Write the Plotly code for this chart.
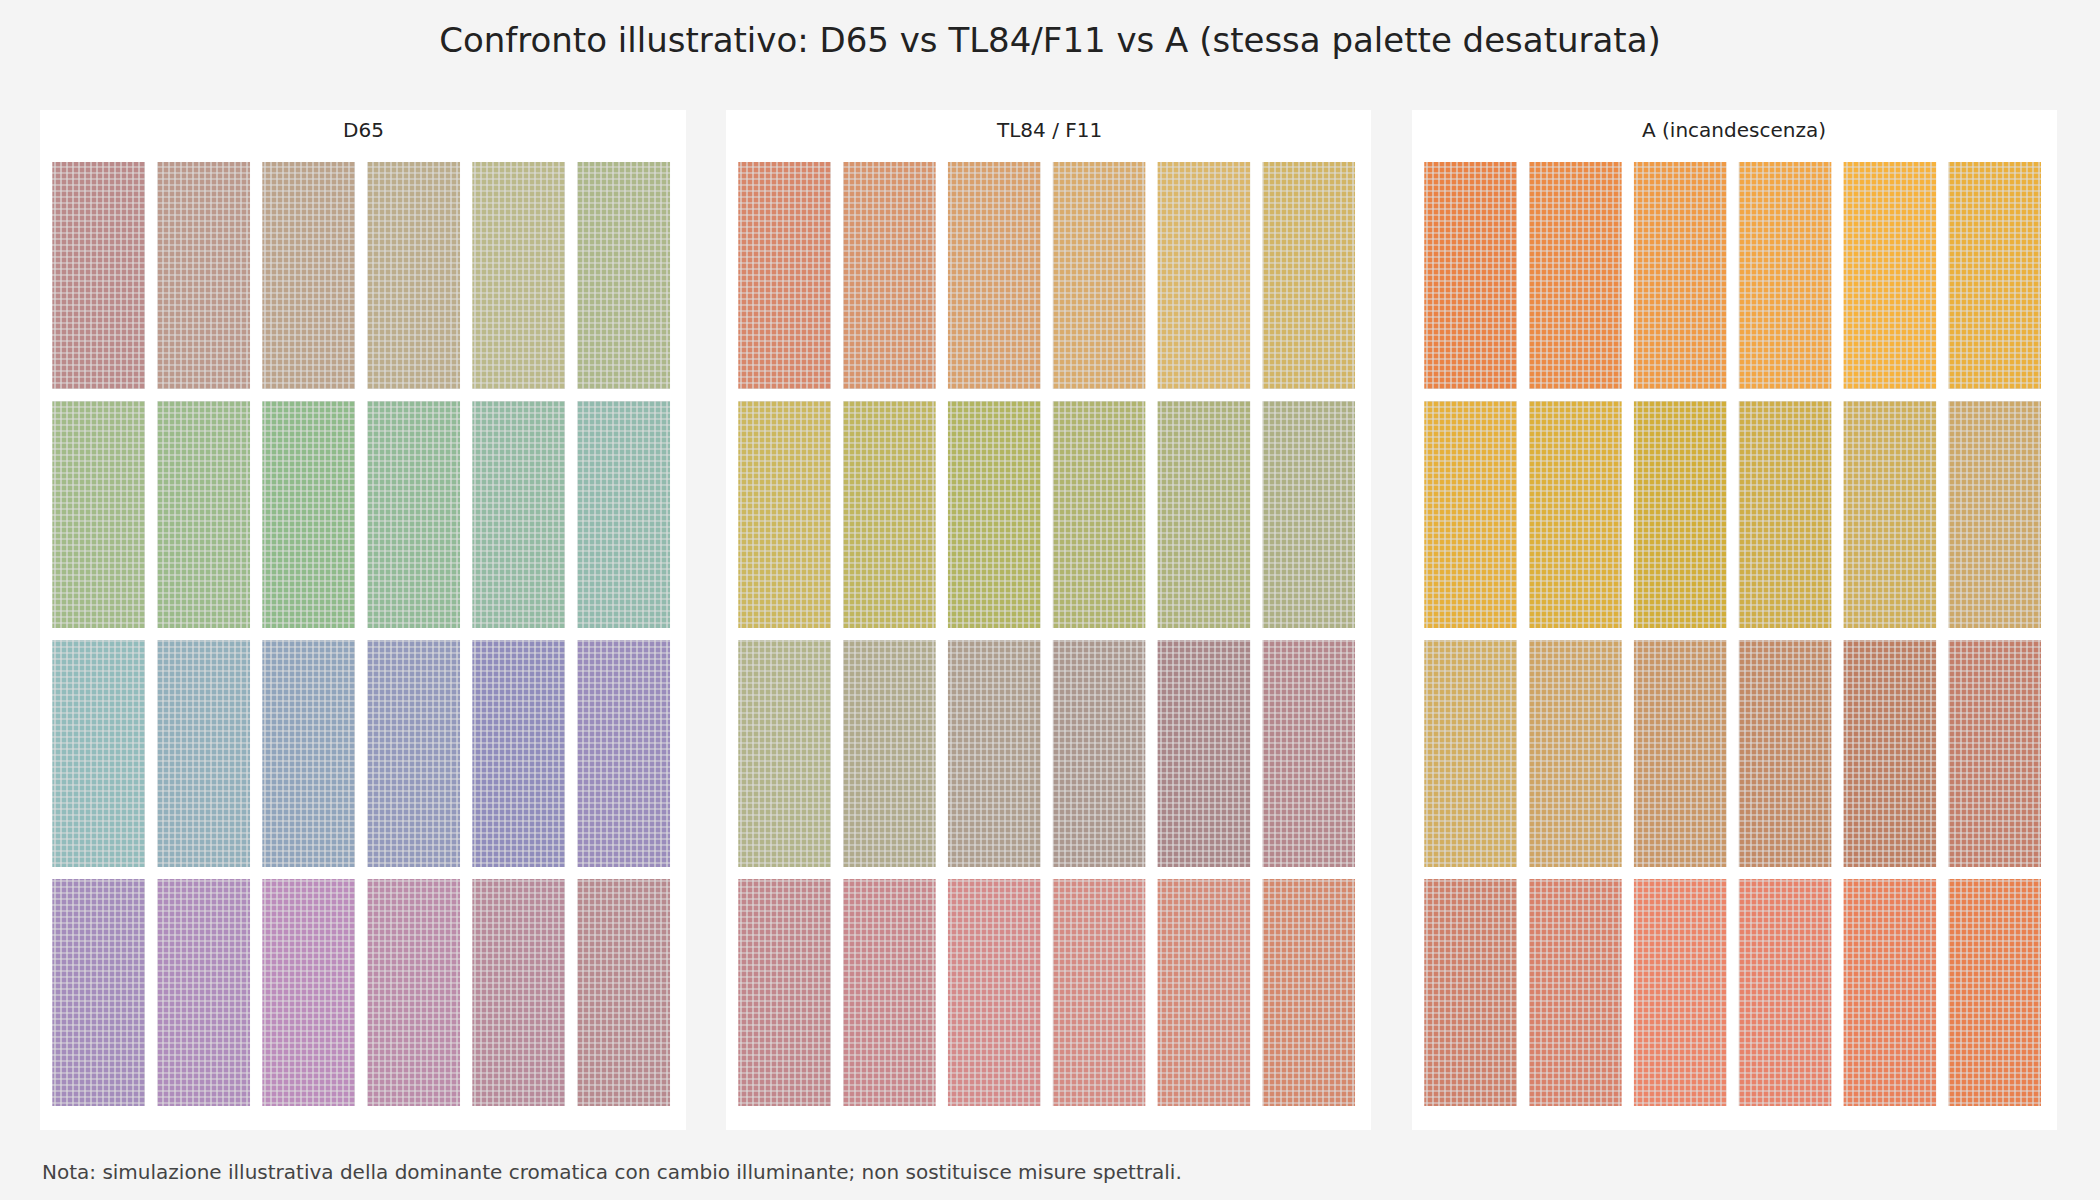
import plotly.graph_objects as go
from plotly.subplots import make_subplots

# swatch colours, row by row (6 per row, 4 rows)
d65_colors = [
    "#bb8a8a", "#bc998c", "#bca38b", "#bcad8c", "#bbb98a", "#adb88a",
    "#a2bb88", "#9bbb8a", "#8fbb8a", "#92bb98", "#93bba3", "#92bbae",
    "#92bcbc", "#92b0bc", "#90a4bc", "#9399bc", "#908cbc", "#9a8cbc",
    "#a48cbc", "#af8cbc", "#bc8cbc", "#bc8caa", "#b88a9a", "#b88a8f",
]
tl84_colors = [
    "#d8876a", "#d8946c", "#d9a06c", "#d9ab6c", "#dbb76a", "#d2b565",
    "#ccb85e", "#c0b65e", "#b2b560", "#b0b46e", "#adb27a", "#adb084",
    "#b2b48a", "#b0aa8c", "#ae9e8e", "#ab978e", "#a98688", "#b5878c",
    "#c2878c", "#c9878c", "#d58a8a", "#d58b83", "#d58a78", "#d5886c",
]
a_colors = [
    "#ea8244", "#ec8a44", "#f09a44", "#f3a644", "#f7b23c", "#ebb03c",
    "#e6b03a", "#ddb03a", "#d2ae38", "#cfae48", "#cfaf58", "#cda868",
    "#d2ae60", "#cfa464", "#c99666", "#c38a66", "#be7e62", "#c47e6a",
    "#cf806a", "#d9816a", "#ec8468", "#e8826a", "#ea805a", "#e9804e",
]
panel_names = ["D65", "TL84 / F11", "A (incandescenza)"]
panel_colors = [d65_colors, tl84_colors, a_colors]

n_cols = 6
n_rows = 4

fig = make_subplots(rows=1, cols=3)

domains = [[0.0, 0.3203], [0.3401, 0.6599], [0.6802, 1.0]]

for p, (name, cols) in enumerate(zip(panel_names, panel_colors)):
    # one trace per swatch so the pattern keeps a light grid over a solid fill
    for i, c in enumerate(cols):
        fig.add_trace(go.Bar(
            x=[i % n_cols], y=[0.95], base=[(n_rows - 1) - i // n_cols], width=0.883,
            marker=dict(color=c, line=dict(width=0),
                        pattern=dict(shape="+", size=6, solidity=0.36,
                                     bgcolor=c, fgcolor="#dddddd", fgopacity=1,
                                     fillmode="replace")),
            hoverinfo="skip", showlegend=False,
        ), row=1, col=p + 1)
    ax = "" if p == 0 else str(p + 1)
    fig.update_layout({
        "xaxis" + ax: dict(domain=domains[p], range=[-0.5586, 5.594],
                           visible=False, fixedrange=True),
        "yaxis" + ax: dict(range=[-0.1004, 4.1674], visible=False, fixedrange=True),
    })
    fig.add_annotation(x=sum(domains[p]) / 2, y=0.9804, xref="paper", yref="paper",
                       text=name, showarrow=False, xanchor="center", yanchor="middle",
                       font=dict(size=20, color="#222222"))

fig.add_annotation(x=0, y=-0.0412, xref="paper", yref="paper", xanchor="left",
                   yanchor="middle", showarrow=False,
                   text="Nota: simulazione illustrativa della dominante cromatica con cambio illuminante; "
                        "non sostituisce misure spettrali.",
                   font=dict(size=20, color="#444444"))

fig.update_layout(
    template="none",
    width=2100, height=1200,
    margin=dict(l=40, r=43, t=110, b=70),
    paper_bgcolor="#f4f4f4", plot_bgcolor="#ffffff",
    font=dict(family="DejaVu Sans", color="#222222"),
    title=dict(text="Confronto illustrativo: D65 vs TL84/F11 vs A (stessa palette desaturata)",
               x=0.5, xanchor="center", y=1 - 40 / 1200, yanchor="middle",
               font=dict(size=34, color="#222222")),
    barmode="overlay",
)

fig.write_html("out.html", config={"displayModeBar": False},
               post_script="document.body.style.margin='0';")
